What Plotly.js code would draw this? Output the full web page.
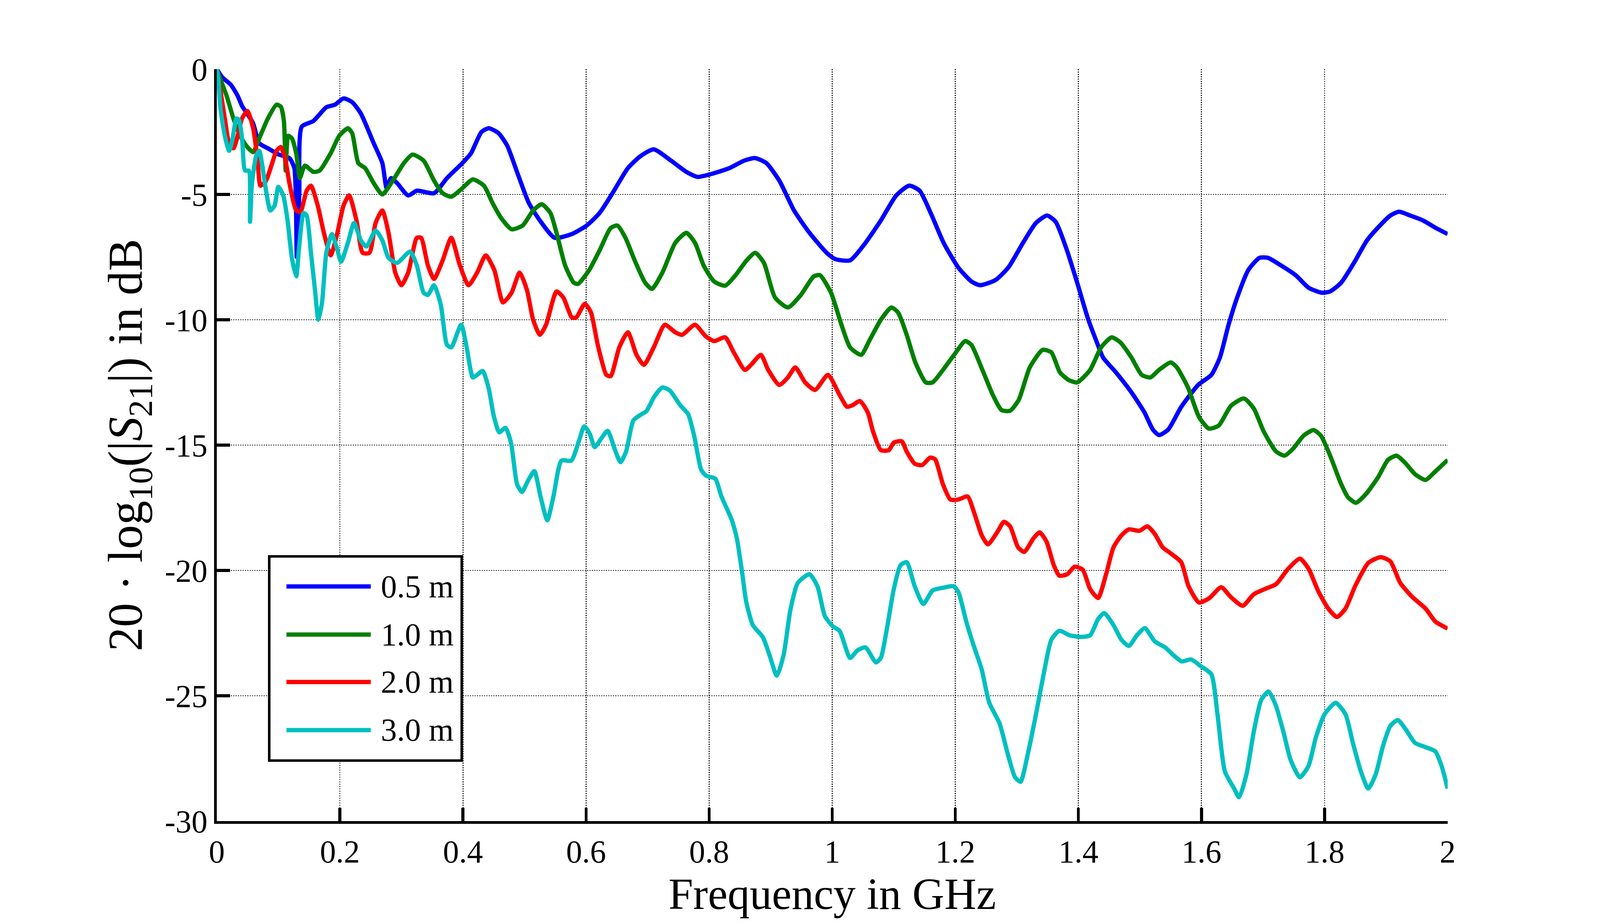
<!DOCTYPE html>
<html>
<head>
<meta charset="utf-8">
<script src="https://cdn.plot.ly/plotly-3.0.1.min.js"></script>
<style>html,body{margin:0;padding:0;background:#fff;overflow:hidden;}#chart{width:100vw;height:100vh;}</style>
</head>
<body>
<div id="chart"></div>
<script>
// ---------------- data ----------------
const seriesNames = ["0.5 m", "1.0 m", "2.0 m", "3.0 m"];
const seriesColors = ["#0000ff", "#008000", "#ff0000", "#00bfbf"];

const f05 = [0,0.009,0.023,0.034,0.041,0.05,0.059,0.069,0.083,0.10,0.118,0.126,0.130,0.134,0.138,0.157,0.178,0.192,0.206,0.22,0.234,0.255,0.269,0.276,0.283,0.293,0.311,0.325,0.353,0.374,0.399,0.413,0.43,0.442,0.458,0.472,0.49,0.507,0.525,0.549,0.577,0.601,0.622,0.643,0.668,0.689,0.71,0.738,0.763,0.781,0.801,0.833,0.857,0.875,0.893,0.914,0.938,0.963,0.991,1.005,1.029,1.051,1.079,1.104,1.125,1.142,1.16,1.181,1.205,1.226,1.24,1.265,1.286,1.31,1.331,1.349,1.363,1.38,1.398,1.415,1.43,1.44,1.461,1.486,1.507,1.521,1.531,1.546,1.567,1.595,1.616,1.63,1.644,1.658,1.676,1.694,1.708,1.729,1.753,1.774,1.795,1.809,1.827,1.848,1.869,1.89,1.907,1.921,1.939,1.96,1.981,2.0];
const s05 = [0,-0.33,-0.63,-1.07,-1.47,-1.8,-2.16,-2.96,-3.16,-3.4,-3.55,-3.95,-7.5,-5.0,-2.3,-2.07,-1.52,-1.42,-1.17,-1.32,-1.77,-2.96,-3.75,-4.75,-4.35,-4.55,-5.04,-4.85,-4.95,-4.35,-3.75,-3.36,-2.51,-2.36,-2.56,-3.06,-4.25,-5.34,-6.04,-6.73,-6.58,-6.24,-5.74,-4.95,-3.95,-3.46,-3.2,-3.65,-4.1,-4.3,-4.2,-3.95,-3.65,-3.55,-3.75,-4.45,-5.64,-6.53,-7.33,-7.58,-7.63,-7.03,-6.04,-5.04,-4.65,-4.85,-5.74,-6.93,-7.92,-8.47,-8.62,-8.42,-7.92,-6.93,-6.14,-5.84,-6.09,-7.13,-8.52,-9.91,-10.9,-11.5,-12.1,-12.89,-13.68,-14.38,-14.6,-14.38,-13.48,-12.59,-12.2,-11.5,-10.2,-9.11,-8.02,-7.53,-7.53,-7.83,-8.22,-8.72,-8.92,-8.87,-8.52,-7.72,-6.83,-6.24,-5.84,-5.69,-5.84,-6.04,-6.34,-6.58];

const f10 = [0,0.0025,0.016,0.027,0.038,0.048,0.059,0.069,0.083,0.097,0.104,0.109,0.112,0.116,0.122,0.129,0.135,0.143,0.157,0.167,0.185,0.199,0.213,0.22,0.23,0.241,0.255,0.269,0.286,0.304,0.318,0.336,0.353,0.367,0.381,0.399,0.416,0.434,0.448,0.462,0.479,0.497,0.514,0.528,0.542,0.552,0.566,0.58,0.587,0.605,0.622,0.64,0.651,0.664,0.679,0.696,0.707,0.724,0.745,0.763,0.777,0.791,0.808,0.826,0.843,0.861,0.875,0.889,0.907,0.928,0.949,0.97,0.98,0.998,1.015,1.029,1.047,1.061,1.079,1.096,1.107,1.121,1.135,1.152,1.163,1.18,1.198,1.216,1.226,1.244,1.261,1.275,1.289,1.303,1.321,1.342,1.356,1.37,1.384,1.398,1.419,1.437,1.454,1.468,1.486,1.503,1.517,1.531,1.55,1.56,1.578,1.596,1.612,1.628,1.648,1.669,1.685,1.701,1.721,1.735,1.749,1.766,1.782,1.794,1.81,1.826,1.838,1.851,1.867,1.887,1.903,1.917,1.931,1.947,1.964,1.98,2.0];
const s10 = [0,-0.18,-1.07,-1.97,-2.66,-3.06,-3.31,-2.76,-1.97,-1.42,-1.5,-2.07,-4.05,-2.66,-2.76,-3.36,-4.35,-3.85,-4.1,-4.05,-3.36,-2.66,-2.36,-2.56,-3.75,-3.95,-4.55,-5.0,-4.45,-3.75,-3.41,-3.65,-4.45,-4.95,-5.09,-4.75,-4.4,-4.65,-5.34,-5.94,-6.39,-6.24,-5.64,-5.39,-5.74,-6.53,-7.83,-8.52,-8.57,-8.02,-7.23,-6.34,-6.24,-6.73,-7.63,-8.52,-8.77,-8.12,-6.93,-6.53,-6.93,-7.83,-8.47,-8.64,-8.22,-7.63,-7.33,-7.73,-9.11,-9.51,-9.01,-8.27,-8.22,-8.92,-10.2,-11.1,-11.4,-10.8,-10.0,-9.51,-9.71,-10.6,-11.7,-12.5,-12.5,-12.0,-11.4,-10.85,-11.0,-12.0,-13.0,-13.6,-13.63,-13.2,-11.9,-11.2,-11.3,-12.1,-12.4,-12.5,-12.0,-11.1,-10.7,-10.9,-11.5,-12.2,-12.3,-12.0,-11.7,-11.9,-12.7,-13.88,-14.34,-14.22,-13.43,-13.14,-13.54,-14.45,-15.25,-15.42,-15.14,-14.62,-14.4,-14.62,-15.48,-16.5,-17.08,-17.3,-16.96,-16.28,-15.59,-15.42,-15.71,-16.16,-16.39,-16.05,-15.59];

const f20 = [0,0.006,0.013,0.02,0.027,0.034,0.041,0.05,0.059,0.066,0.071,0.08,0.09,0.097,0.104,0.111,0.118,0.129,0.136,0.146,0.153,0.164,0.174,0.185,0.195,0.206,0.215,0.227,0.237,0.248,0.258,0.269,0.279,0.29,0.3,0.311,0.325,0.332,0.343,0.353,0.367,0.381,0.395,0.409,0.423,0.437,0.451,0.465,0.479,0.492,0.504,0.514,0.525,0.535,0.552,0.563,0.577,0.584,0.598,0.608,0.619,0.633,0.64,0.654,0.668,0.682,0.694,0.71,0.728,0.745,0.756,0.777,0.794,0.808,0.826,0.84,0.858,0.868,0.884,0.896,0.914,0.928,0.94,0.956,0.972,0.993,1.012,1.024,1.033,1.045,1.058,1.066,1.079,1.092,1.1,1.113,1.121,1.134,1.146,1.159,1.167,1.18,1.192,1.205,1.22,1.23,1.243,1.253,1.268,1.279,1.289,1.302,1.312,1.327,1.337,1.348,1.36,1.369,1.382,1.394,1.407,1.419,1.432,1.445,1.457,1.47,1.482,1.499,1.512,1.524,1.537,1.55,1.567,1.579,1.596,1.613,1.632,1.648,1.667,1.685,1.705,1.721,1.741,1.76,1.774,1.79,1.806,1.82,1.834,1.85,1.871,1.891,1.907,1.923,1.943,1.964,1.98,2.0];
const s20 = [0,-0.87,-1.97,-2.96,-3.16,-2.66,-1.97,-1.67,-2.36,-3.56,-4.65,-4.45,-3.75,-3.26,-3.11,-3.56,-4.55,-5.64,-5.69,-4.85,-4.65,-5.44,-6.53,-7.43,-6.63,-5.44,-5.04,-6.04,-7.33,-7.33,-6.14,-5.64,-6.53,-8.12,-8.62,-8.12,-6.73,-6.73,-7.83,-8.37,-7.63,-6.73,-7.83,-8.62,-8.12,-7.43,-8.02,-9.31,-8.92,-8.12,-8.82,-10.0,-10.6,-10.2,-8.87,-9.11,-9.91,-9.91,-9.36,-9.71,-11.0,-12.2,-12.25,-11.1,-10.5,-11.4,-11.8,-11.1,-10.2,-10.5,-10.6,-10.2,-10.65,-10.85,-10.7,-11.3,-12.0,-11.8,-11.4,-12.0,-12.6,-12.3,-11.9,-12.5,-12.8,-12.2,-13.0,-13.47,-13.41,-13.24,-13.71,-14.43,-15.2,-15.2,-14.9,-14.85,-15.26,-15.74,-15.8,-15.5,-15.56,-16.57,-17.17,-17.17,-17.05,-17.65,-18.6,-18.96,-18.48,-18.06,-18.24,-19.08,-19.26,-18.72,-18.48,-18.84,-19.79,-20.21,-20.15,-19.85,-19.97,-20.74,-21.1,-20.15,-19.08,-18.6,-18.36,-18.42,-18.24,-18.54,-19.08,-19.32,-19.67,-20.63,-21.28,-21.1,-20.67,-21.07,-21.41,-20.95,-20.72,-20.55,-19.93,-19.53,-19.93,-20.84,-21.52,-21.86,-21.52,-20.61,-19.7,-19.47,-19.64,-20.5,-21.07,-21.52,-22.04,-22.32];

const f30 = [0,0.0025,0.006,0.013,0.02,0.025,0.032,0.036,0.041,0.046,0.052,0.054,0.057,0.064,0.069,0.074,0.08,0.087,0.094,0.1,0.108,0.115,0.122,0.129,0.134,0.141,0.146,0.153,0.16,0.165,0.171,0.178,0.187,0.195,0.202,0.213,0.223,0.234,0.243,0.258,0.269,0.279,0.293,0.314,0.325,0.336,0.343,0.353,0.364,0.374,0.381,0.397,0.406,0.416,0.423,0.432,0.442,0.45,0.459,0.469,0.478,0.488,0.496,0.505,0.516,0.526,0.537,0.547,0.56,0.576,0.589,0.597,0.606,0.614,0.625,0.635,0.648,0.656,0.665,0.677,0.69,0.698,0.711,0.724,0.736,0.753,0.766,0.776,0.787,0.795,0.81,0.82,0.837,0.845,0.854,0.86,0.871,0.887,0.898,0.91,0.921,0.932,0.944,0.963,0.976,0.988,1.001,1.012,1.029,1.041,1.054,1.071,1.079,1.089,1.1,1.111,1.121,1.134,1.148,1.163,1.18,1.197,1.205,1.218,1.23,1.243,1.255,1.272,1.285,1.297,1.306,1.318,1.331,1.344,1.356,1.369,1.386,1.403,1.419,1.432,1.442,1.457,1.47,1.482,1.495,1.508,1.524,1.541,1.554,1.568,1.583,1.6,1.616,1.626,1.638,1.653,1.661,1.673,1.685,1.697,1.709,1.721,1.733,1.745,1.76,1.774,1.786,1.8,1.818,1.834,1.846,1.859,1.871,1.883,1.895,1.907,1.919,1.931,1.947,1.964,1.98,1.99,2.0];
const s30 = [0,-0.38,-1.57,-2.66,-3.26,-2.86,-1.97,-2.02,-2.76,-4.05,-4.05,-6.09,-4.6,-3.46,-3.26,-3.85,-4.85,-5.64,-5.44,-4.7,-5.04,-6.04,-7.53,-8.27,-7.03,-5.74,-5.84,-7.33,-8.92,-10.0,-9.31,-7.33,-6.58,-7.13,-7.68,-6.93,-6.14,-6.83,-7.08,-6.44,-6.83,-7.53,-7.73,-7.28,-7.83,-8.92,-9.01,-8.62,-9.41,-11.0,-11.1,-10.2,-11.1,-12.3,-12.2,-12.04,-12.76,-13.83,-14.49,-14.31,-14.9,-16.57,-16.87,-16.45,-16.04,-17.05,-18.0,-17.05,-15.62,-15.62,-14.79,-14.25,-14.55,-15.08,-14.73,-14.43,-15.26,-15.68,-15.26,-14.01,-13.77,-13.65,-13.06,-12.7,-12.82,-13.41,-13.77,-14.67,-15.98,-16.22,-16.34,-17.05,-18.0,-18.72,-20.15,-21.22,-22.18,-22.65,-23.37,-24.2,-23.37,-21.58,-20.5,-20.15,-20.63,-21.82,-22.23,-22.41,-23.49,-23.19,-23.07,-23.67,-23.49,-22.3,-20.75,-19.79,-19.67,-20.63,-21.34,-20.8,-20.69,-20.63,-20.86,-22.06,-23.01,-23.96,-25.27,-26.11,-27.3,-28.25,-28.43,-27.3,-25.75,-24.08,-22.77,-22.41,-22.59,-22.65,-22.59,-21.94,-21.7,-22.18,-22.77,-23.01,-22.59,-22.3,-22.83,-23.07,-23.37,-23.63,-23.55,-23.84,-24.14,-25.74,-28.02,-28.7,-29.05,-28.14,-26.43,-25.17,-24.83,-25.4,-26.43,-27.57,-28.25,-27.79,-26.65,-25.74,-25.28,-25.74,-26.88,-28.02,-28.7,-28.14,-27.0,-26.2,-25.97,-26.31,-26.88,-27.05,-27.22,-27.79,-28.7];

const xTickVals = [0,0.2,0.4,0.6,0.8,1,1.2,1.4,1.6,1.8,2];
const xTickText = ["0","0.2","0.4","0.6","0.8","1","1.2","1.4","1.6","1.8","2"];
const yTickVals = [0,-5,-10,-15,-20,-25,-30];
const yTickText = ["0","-5","-10","-15","-20","-25","-30"];
const xTitle = "Frequency in GHz";
const yTitle = "20 · log<sub>10</sub>(|<i>S</i><sub>21</sub>|) in dB";

const xs = [f05, f10, f20, f30];
const ys = [s05, s10, s20, s30];

// ---------------- build (sizes scale with the actual window) ----------------
const W = window.innerWidth || 4729, H = window.innerHeight || 2364;
const sx = W / 4729, sy = H / 2364, sf = Math.sqrt(sx * sy);

const FONT = "Liberation Serif, Times New Roman, serif";
const traces = xs.map((x, i) => ({
  type: "scatter", mode: "lines", x: x, y: ys[i],
  name: seriesNames[i], showlegend: false,
  line: {color: seriesColors[i], width: 11 * sy, shape: "spline", smoothing: 0.6}
}));

// legend box drawn like the reference (long line samples)
const lgX0 = 0.0426, lgX1 = 0.199, lgYTop = 0.352, lgYBot = 0.0805;
const lgRows = [0.312, 0.248, 0.185, 0.121];
const shapes = [{
  type: "rect", xref: "paper", yref: "paper", x0: lgX0, x1: lgX1, y0: lgYBot, y1: lgYTop,
  line: {color: "#000", width: 7 * sf}, fillcolor: "#fff", layer: "above"
}];
const annotations = [];
seriesNames.forEach((nm, i) => {
  shapes.push({type: "line", xref: "paper", yref: "paper", x0: 0.0566, x1: 0.1251,
    y0: lgRows[i], y1: lgRows[i], line: {color: seriesColors[i], width: 11 * sy}, layer: "above"});
  annotations.push({xref: "paper", yref: "paper", x: 0.1328, y: lgRows[i], text: nm,
    showarrow: false, xanchor: "left", yanchor: "middle",
    font: {family: FONT, size: 88 * sf, color: "#000"}});
});

const axBase = {
  showline: true, linecolor: "#000", linewidth: 8 * sf, mirror: false,
  ticks: "inside", ticklen: 37 * sf, tickwidth: 8 * sf, tickcolor: "#000",
  showgrid: true, gridcolor: "#222", gridwidth: 3 * sf, griddash: "dot",
  zeroline: false, tickfont: {family: FONT, size: 88 * sf, color: "#000"}
};

const NB = "\u00A0";
const layout = {
  width: W, height: H,
  margin: {l: 641 * sx, r: 450 * sx, t: 177 * sy, b: 261 * sy, pad: 0},
  paper_bgcolor: "#fff", plot_bgcolor: "#fff",
  font: {family: FONT, size: 88 * sf, color: "#000"},
  showlegend: false,
  xaxis: Object.assign({}, axBase, {
    range: [0, 2], tickvals: xTickVals, ticktext: xTickText,
    title: {text: NB.repeat(7) + xTitle, font: {family: FONT, size: 122 * sf, color: "#000"}, standoff: 2 * sy}
  }),
  yaxis: Object.assign({}, axBase, {
    range: [-30, 0], tickvals: yTickVals, ticktext: yTickText,
    title: {text: NB.repeat(5) + yTitle, font: {family: FONT, size: 124 * sy, color: "#000"}, standoff: 22 * sx}
  }),
  shapes: shapes,
  annotations: annotations
};

Plotly.newPlot("chart", traces, layout, {staticPlot: true, displayModeBar: false});
</script>
</body>
</html>
